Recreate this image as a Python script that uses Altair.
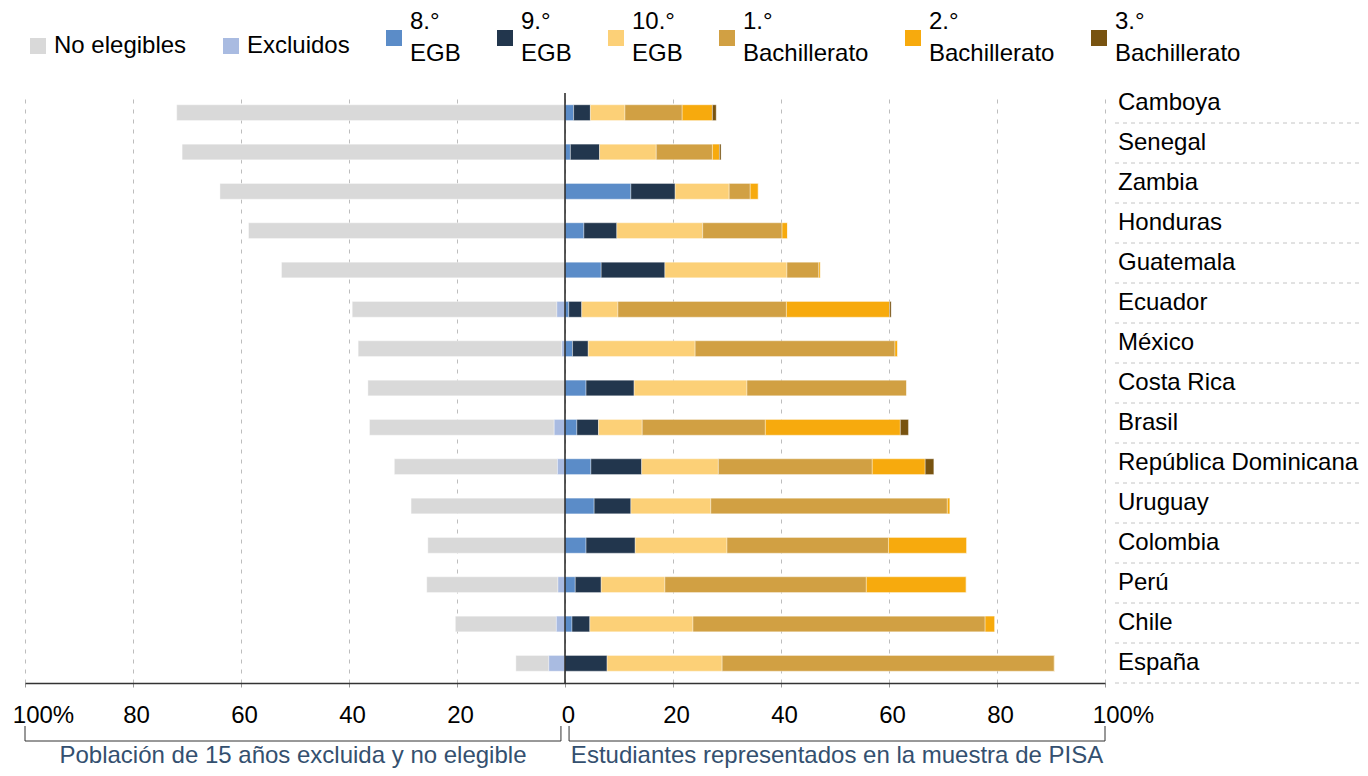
import altair as alt
import pandas as pd

countries = ["Camboya", "Senegal", "Zambia", "Honduras", "Guatemala", "Ecuador", "México",
             "Costa Rica", "Brasil", "República Dominicana", "Uruguay", "Colombia", "Perú",
             "Chile", "España"]
no_elegibles = [71.9, 70.9, 63.9, 58.6, 52.5, 37.9, 37.7, 36.5, 34.2, 30.2, 28.5, 25.4, 24.3, 18.7, 6.1]
excluidos = [0, 0, 0, 0, 0, 1.5, 0.6, 0, 2.0, 1.4, 0, 0, 1.3, 1.6, 3.0]
egb8 = [1.6, 1.0, 12.2, 3.5, 6.7, 0.7, 1.4, 3.9, 2.2, 4.8, 5.4, 3.9, 1.9, 1.3, 0]
egb9 = [3.1, 5.4, 8.2, 6.1, 11.8, 2.4, 2.9, 8.9, 4.0, 9.4, 6.8, 9.1, 4.8, 3.3, 7.8]
egb10 = [6.4, 10.5, 10.0, 15.9, 22.6, 6.7, 19.8, 20.9, 8.1, 14.2, 14.8, 17.0, 11.8, 19.1, 21.3]
bach1 = [10.6, 10.4, 3.9, 14.7, 5.9, 31.2, 37.0, 29.6, 22.8, 28.5, 43.8, 29.9, 37.3, 54.1, 61.5]
bach2 = [5.6, 1.3, 1.5, 1.0, 0.3, 19.1, 0.5, 0, 25.0, 9.8, 0.5, 14.5, 18.5, 1.8, 0.1]
bach3 = [0.7, 0.3, 0, 0, 0, 0.3, 0, 0, 1.5, 1.6, 0, 0, 0, 0, 0]

categories = ["No elegibles", "Excluidos", "8.° EGB", "9.° EGB", "10.° EGB",
              "1.° Bachillerato", "2.° Bachillerato", "3.° Bachillerato"]
colors = ["#d9d9d9", "#a9bbe1", "#5b8cc8", "#22364d", "#fcd077", "#d1a043", "#f7aa0d", "#785310"]
tick_values = [-100, -80, -60, -40, -20, 0, 20, 40, 60, 80, 100]
bracket_names = ["Población de 15 años excluida y no elegible",
                 "Estudiantes representados en la muestra de PISA"]
bracket_start = [-100, 0.75]
bracket_end = [-0.75, 100]

FONT = "Liberation Sans"
FS = 24

rows = []
for i, c in enumerate(countries):
    # left side: excluidos next to zero, then no elegibles
    rows.append(dict(pais=c, cat="Excluidos", start=-excluidos[i], end=0))
    rows.append(dict(pais=c, cat="No elegibles", start=-(excluidos[i] + no_elegibles[i]), end=-excluidos[i]))
    acc = 0.0
    for cat, vals in zip(categories[2:], [egb8, egb9, egb10, bach1, bach2, bach3]):
        v = vals[i]
        rows.append(dict(pais=c, cat=cat, start=acc, end=acc + v))
        acc += v
df = pd.DataFrame(rows)
df["orden"] = df["cat"].map({k: j for j, k in enumerate(categories)})

lab = pd.DataFrame({"pais": countries, "idx": list(range(len(countries)))})
lab["sep"] = lab["idx"] + 0.5

br = pd.DataFrame({"name": bracket_names, "s": bracket_start, "e": bracket_end})
br["mid"] = (br["s"] + br["e"]) / 2

xscale = alt.Scale(domain=[-100, 100], nice=False, zero=False)
yq = alt.Scale(domain=[-0.25, 14.5], reverse=True, nice=False, zero=False)

bars = alt.Chart(df).mark_bar(stroke="white", strokeWidth=0.6, strokeOpacity=0.6).encode(
    x=alt.X("start:Q", scale=xscale, title=None,
            axis=alt.Axis(values=tick_values,
                          labelExpr="abs(datum.value) == 100 ? '100%' : format(abs(datum.value), 'd')",
                          labelFontSize=FS, labelFont=FONT, labelColor="#000",
                          labelFlush=False, labelPadding=16,
                          labelOffset={"condition": {"test": "abs(datum.value) == 100", "value": 18}, "value": 3},
                          tickSize=4, tickColor="#999",
                          domainColor="#333", domainWidth=1.5,
                          grid=True, gridDash=[4, 6], gridColor="#bdbdbd", gridWidth=1)),
    x2="end:Q",
    y=alt.Y("pais:N", sort=countries, axis=None,
            scale=alt.Scale(paddingInner=0.6, paddingOuter=0.3)),
    color=alt.Color("cat:N", scale=alt.Scale(domain=categories, range=colors),
                    legend=alt.Legend(title=None, orient="none", legendX=1, legendY=-67,
                                      direction="horizontal", columns=8, columnPadding=32,
                                      symbolType="square", symbolSize=256, symbolStrokeWidth=0,
                                      labelFontSize=FS, labelFont=FONT, labelColor="#000",
                                      labelOffset=4, labelLimit=300, padding=0,
                                      labelBaseline=alt.ExprRef(expr="indexof(datum.label, '°') > 0 ? 'line-bottom' : 'middle'"),
                                      labelExpr="indexof(datum.label, '°') > 0 ? split(datum.label, ' ') : datum.label")),
    order=alt.Order("orden:Q"),
)

zero = alt.Chart(pd.DataFrame({"z": [0]})).mark_rule(color="#222", strokeWidth=1.5).encode(
    x=alt.X("z:Q", scale=xscale)
)

labels = alt.Chart(lab).mark_text(align="left", baseline="middle", fontSize=FS, font=FONT, color="#000").encode(
    x=alt.value(1093),
    y=alt.Y("idx:Q", scale=yq, axis=None),
    text="pais:N",
)

seps = alt.Chart(lab).mark_rule(color="#c4c4c4", strokeDash=[4, 4], strokeWidth=1).encode(
    x=alt.value(1090), x2=alt.value(1345),
    y=alt.Y("sep:Q", scale=yq, axis=None),
)

br_h = alt.Chart(br).mark_rule(color="#333", strokeWidth=1).encode(
    x=alt.X("s:Q", scale=xscale), x2="e:Q", y=alt.value(648)
)
br_l = alt.Chart(br).mark_rule(color="#333", strokeWidth=1).encode(
    x=alt.X("s:Q", scale=xscale), y=alt.value(633), y2=alt.value(648)
)
br_r = alt.Chart(br).mark_rule(color="#333", strokeWidth=1).encode(
    x=alt.X("e:Q", scale=xscale), y=alt.value(633), y2=alt.value(648)
)
br_t = alt.Chart(br).mark_text(align="center", baseline="alphabetic", fontSize=FS, font=FONT, color="#34506f").encode(
    x=alt.X("mid:Q", scale=xscale), y=alt.value(670), text="name:N"
)

chart = alt.layer(bars, zero, labels, seps, br_h, br_l, br_r, br_t).resolve_scale(
    y="independent"
).properties(
    width=1080, height=590,
    autosize=alt.AutoSizeParams(type="none"),
    padding={"left": 17, "top": 85, "right": 255, "bottom": 85},
).configure(
    font=FONT,
    view=alt.ViewConfig(strokeWidth=0),
    style={"guide-label": {"lineHeight": 32}},
)

chart.save("out.html", embed_options={"renderer": "svg", "actions": False})
